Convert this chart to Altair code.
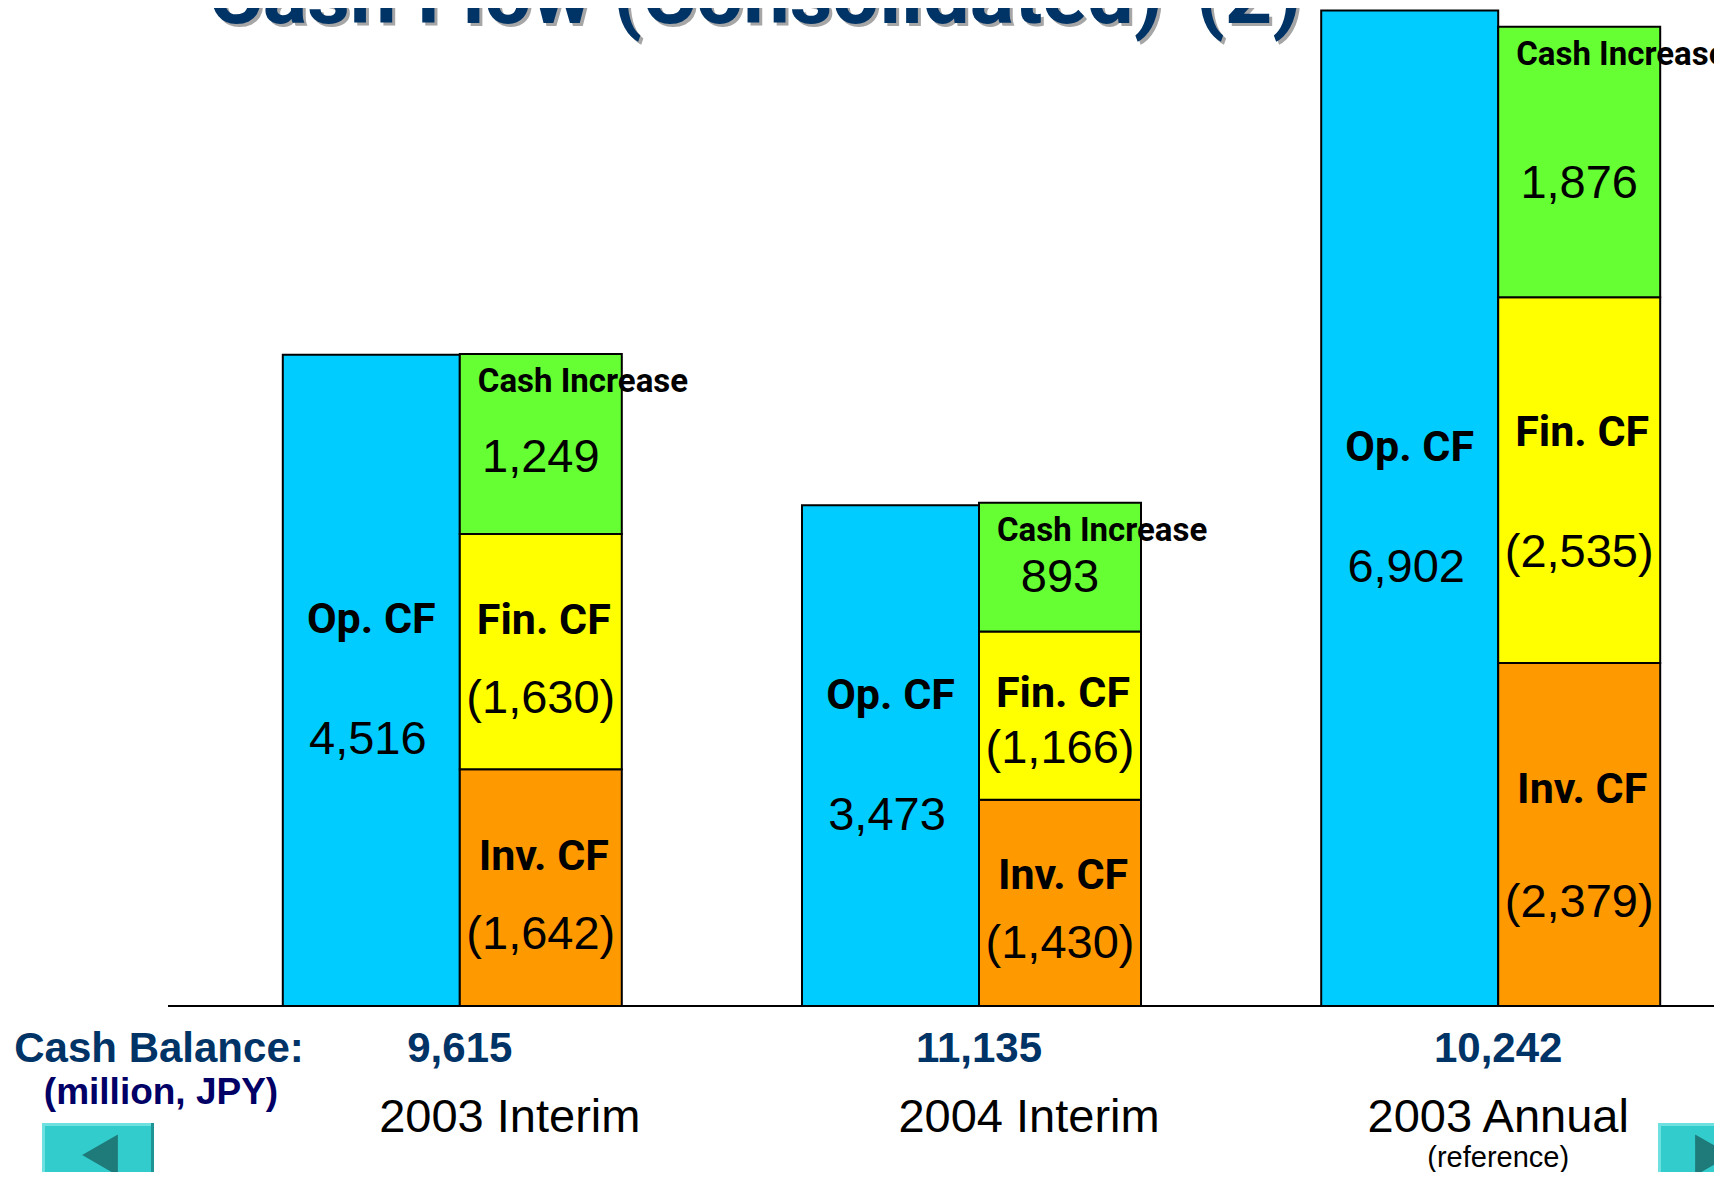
import altair as alt
import pandas as pd

# ---- data ----
categories = ["2003 Interim", "2004 Interim", "2003 Annual"]
op_cf = [4516, 3473, 6902]
inv_cf = [-1642, -1430, -2379]
fin_cf = [-1630, -1166, -2535]
cash_increase = [1249, 893, 1876]
cash_balance = [9615, 11135, 10242]
items = ["Inv. CF", "Fin. CF", "Cash Increase"]
item_colors = ["#FF9900", "#FFFF00", "#66FF33"]
title_text = "Cash Flow (Consolidated)-(2)"


def fmt(v):
    return f"({abs(v):,})" if v < 0 else f"{v:,}"


op_df = pd.DataFrame({"category": categories, "value": op_cf,
                      "label": [fmt(v) for v in op_cf]})
rows = []
for i, c in enumerate(categories):
    for k, (item, vals) in enumerate(zip(items, [inv_cf, fin_cf, cash_increase])):
        v = vals[i]
        rows.append({"category": c, "item": item, "value": v, "mag": abs(v),
                     "order": k, "label": fmt(v)})
seg_df = pd.DataFrame(rows)
bal_df = pd.DataFrame({"category": categories,
                       "label": [f"{v:,}" for v in cash_balance]})
cat_df = pd.DataFrame({"category": categories})
one = pd.DataFrame({"a": [0]})

NARROW = "Liberation Sans Narrow, Roboto, sans-serif"
SANS = "Liberation Sans, Arial, sans-serif"
NAVY = "#003366"

X = alt.X("category:N", sort=categories,
          scale=alt.Scale(paddingInner=0.5, paddingOuter=0), axis=None)
YS = alt.Scale(domain=[0, 6920], nice=False)

op_bar = alt.Chart(op_df).mark_bar(
    width=177, xOffset=-88.5, fill="#00CCFF", stroke="black", strokeWidth=2
).encode(x=X, y=alt.Y("value:Q", scale=YS, axis=None))

op_base = alt.Chart(op_df).transform_calculate(mid="datum.value / 2")
op_name = op_base.mark_text(
    text="Op. CF", font=NARROW, fontWeight="bold", fontSize=43,
    xOffset=-88.5, dy=-60, baseline="middle", color="black"
).encode(x=X, y=alt.Y("mid:Q", scale=YS, axis=None))
op_val = op_base.mark_text(
    font=SANS, fontSize=47, xOffset=-92, dy=60, baseline="middle", color="black"
).encode(x=X, y=alt.Y("mid:Q", scale=YS, axis=None), text="label:N")

seg_bar = alt.Chart(seg_df).mark_bar(
    width=162, xOffset=81, stroke="black", strokeWidth=2
).encode(
    x=X,
    y=alt.Y("mag:Q", scale=YS, axis=None, stack="zero"),
    order=alt.Order("order:Q", sort="ascending"),
    color=alt.Color("item:N", scale=alt.Scale(domain=items, range=item_colors),
                    legend=None),
)

seg_base = alt.Chart(seg_df).transform_window(
    y1="sum(mag)", groupby=["category"], sort=[alt.SortField("order")],
    frame=[None, 0]
).transform_calculate(y0="datum.y1 - datum.mag")

seg_name = seg_base.transform_filter("datum.item != 'Cash Increase'").transform_calculate(
    ny="datum.y0 + 0.63 * (datum.y1 - datum.y0)"
).mark_text(
    font=NARROW, fontWeight="bold", fontSize=43, xOffset=84, baseline="middle",
    color="black"
).encode(x=X, y=alt.Y("ny:Q", scale=YS, axis=None), text="item:N")
seg_val = seg_base.transform_calculate(
    vy="datum.item == 'Cash Increase' ? datum.y0 + 0.42 * (datum.y1 - datum.y0)"
       " : datum.y0 + 0.3 * (datum.y1 - datum.y0)"
).mark_text(
    font=SANS, fontSize=47, xOffset=81, baseline="middle", color="black"
).encode(x=X, y=alt.Y("vy:Q", scale=YS, axis=None), text="label:N")
cash_name = seg_base.transform_filter("datum.item == 'Cash Increase'").mark_text(
    font=NARROW, fontWeight="bold", fontSize=33, xOffset=18, dy=28,
    align="left", baseline="middle", color="black"
).encode(x=X, y=alt.Y("y1:Q", scale=YS, axis=None), text="item:N")

baseline_rule = alt.Chart(one).mark_rule(color="black", strokeWidth=2).encode(
    x=alt.value(-162), x2=alt.value(1400), y=alt.value(998)
)

bal_text = alt.Chart(bal_df).mark_text(
    font=SANS, fontWeight="bold", fontSize=42, color=NAVY, baseline="middle"
).encode(x=X, y=alt.value(1041), text="label:N")

cat_interim = alt.Chart(cat_df).transform_filter(
    "datum.category != '2003 Annual'"
).mark_text(font=SANS, fontSize=47, color="black", baseline="middle", dx=50).encode(
    x=X, y=alt.value(1110), text="category:N")
cat_annual = alt.Chart(cat_df).transform_filter(
    "datum.category == '2003 Annual'"
).mark_text(font=SANS, fontSize=47, color="black", baseline="middle").encode(
    x=X, y=alt.value(1110), text="category:N")
ref_text = alt.Chart(cat_df).transform_filter(
    "datum.category == '2003 Annual'"
).mark_text(text="(reference)", font=SANS, fontSize=29, color="black",
            baseline="middle").encode(x=X, y=alt.value(1150))

cb_label = alt.Chart(one).mark_text(
    text="Cash Balance:", font=SANS, fontWeight="bold", fontSize=42, color=NAVY,
    baseline="middle"
).encode(x=alt.value(-171), y=alt.value(1041))
unit_label = alt.Chart(one).mark_text(
    text="(million, JPY)", font=SANS, fontWeight="bold", fontSize=37,
    color="#000066", baseline="middle"
).encode(x=alt.value(-169), y=alt.value(1085))

title_shadow = alt.Chart(one).mark_text(
    text=title_text, font=NARROW, fontWeight="bold", fontSize=83,
    color="#A6A6A6", baseline="alphabetic"
).encode(x=alt.value(428), y=alt.value(18))
title = alt.Chart(one).mark_text(
    text=title_text, font=NARROW, fontWeight="bold", fontSize=83,
    color=NAVY, baseline="alphabetic"
).encode(x=alt.value(425), y=alt.value(15))


def button(x1, x2, tri_x, shape):
    y1, y2 = 1115, 1180
    dark = alt.Chart(one).mark_rect(fill="#1F9494").encode(
        x=alt.value(x1), x2=alt.value(x2), y=alt.value(y1), y2=alt.value(y2))
    light = alt.Chart(one).mark_rect(fill="#6FE0E0").encode(
        x=alt.value(x1), x2=alt.value(x2 - 3), y=alt.value(y1), y2=alt.value(y2))
    face = alt.Chart(one).mark_rect(fill="#33CCCC").encode(
        x=alt.value(x1 + 3), x2=alt.value(x2 - 3), y=alt.value(y1 + 3),
        y2=alt.value(y2))
    tri = alt.Chart(one).mark_point(
        shape=shape, filled=True, fill="#1F7A7A", opacity=1, size=1700,
        strokeWidth=0
    ).encode(x=alt.value(tri_x), y=alt.value(1147))
    return [dark, light, face, tri]


layers = [
    op_bar, seg_bar, baseline_rule, op_name, op_val, seg_name, seg_val, cash_name,
    bal_text, cat_interim, cat_annual, ref_text, cb_label, unit_label,
    title_shadow, title,
] + button(-288, -176, -230, "triangle-left") + button(1328, 1400, 1383, "triangle-right")

chart = alt.layer(*layers).properties(
    width=1298,
    height=998,
    autosize=alt.AutoSizeParams(type="none"),
    padding={"left": 322, "top": 0, "right": 86, "bottom": 166},
    background="white",
).configure_view(stroke=None)

chart.save("out.html", embed_options={"renderer": "svg", "actions": False})
